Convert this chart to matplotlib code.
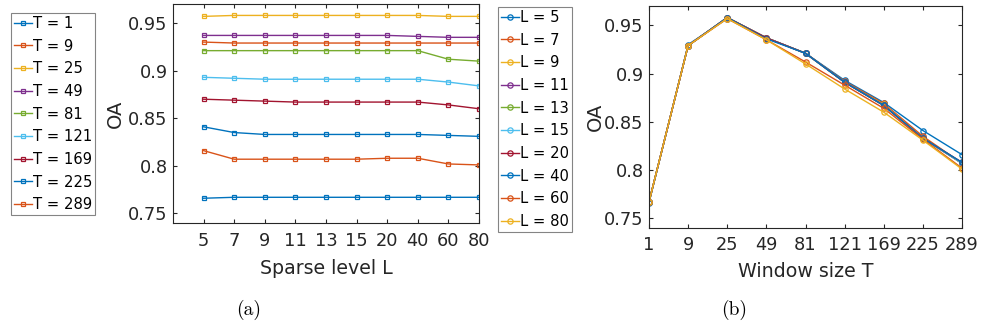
import matplotlib
matplotlib.use("Agg")
import matplotlib.pyplot as plt
import numpy as np

plt.rcParams['font.family'] = ['DejaVu Sans']

# window sizes T (rows) and sparse levels L (columns)
T_vals = [1, 9, 25, 49, 81, 121, 169, 225, 289]
L_vals = [5, 7, 9, 11, 13, 15, 20, 40, 60, 80]

# OA for each T (row) over L (column)
oa_T1   = [0.766, 0.767, 0.767, 0.767, 0.767, 0.767, 0.767, 0.767, 0.767, 0.767]
oa_T9   = [0.930, 0.929, 0.929, 0.929, 0.929, 0.929, 0.929, 0.929, 0.929, 0.929]
oa_T25  = [0.957, 0.958, 0.958, 0.958, 0.958, 0.958, 0.958, 0.958, 0.957, 0.957]
oa_T49  = [0.937, 0.937, 0.937, 0.937, 0.937, 0.937, 0.937, 0.936, 0.935, 0.935]
oa_T81  = [0.921, 0.921, 0.921, 0.921, 0.921, 0.921, 0.921, 0.921, 0.912, 0.910]
oa_T121 = [0.893, 0.892, 0.891, 0.891, 0.891, 0.891, 0.891, 0.891, 0.888, 0.884]
oa_T169 = [0.870, 0.869, 0.868, 0.867, 0.867, 0.867, 0.867, 0.867, 0.864, 0.860]
oa_T225 = [0.841, 0.835, 0.833, 0.833, 0.833, 0.833, 0.833, 0.833, 0.832, 0.831]
oa_T289 = [0.816, 0.807, 0.807, 0.807, 0.807, 0.807, 0.808, 0.808, 0.802, 0.801]

oa = np.array([oa_T1, oa_T9, oa_T25, oa_T49, oa_T81, oa_T121, oa_T169, oa_T225, oa_T289])

# MATLAB default colour order
colors = ['#0072BD', '#D95319', '#EDB120', '#7E2F8E', '#77AC30',
          '#4DBEEE', '#A2142F']

axis_col = '#262626'

fig = plt.figure(figsize=(9.81, 3.27), dpi=100)
ax1 = fig.add_axes([173 / 981, 1 - 223 / 327, 306 / 981, 219 / 327])
ax2 = fig.add_axes([649 / 981, 1 - 228 / 327, 313 / 981, 222 / 327])

def style(ax, xpad):
    for s in ax.spines.values():
        s.set_color(axis_col)
        s.set_linewidth(0.8)
    ax.tick_params(direction='in', length=3, width=0.8, colors=axis_col,
                   labelsize=12.8, top=True, right=True)
    ax.tick_params(axis='x', pad=xpad)
    ax.tick_params(axis='y', pad=3.8)
    ax.set_ylim(0.74, 0.97)
    ax.set_yticks([0.75, 0.8, 0.85, 0.9, 0.95])
    ax.set_yticklabels(['0.75', '0.8', '0.85', '0.9', '0.95'])
    ax.set_ylabel('OA', fontsize=14, color=axis_col)

# (a) OA vs sparse level, one line per T
xa = np.arange(1, len(L_vals) + 1)
h1 = []
for i, t in enumerate(T_vals):
    h, = ax1.plot(xa, oa[i], '-s', color=colors[i % 7], lw=1.0, ms=3.5,
                  mfc='none', mew=0.9, label='T = %d' % t)
    h1.append(h)
ax1.set_xlim(0, len(L_vals))
ax1.set_xticks(xa)
ax1.set_xticklabels([str(l) for l in L_vals])
ax1.set_xlabel('Sparse level L', fontsize=13.7, color=axis_col)
style(ax1, 6.8)
ax1.yaxis.set_label_coords(-0.158, 0.5)
ax1.xaxis.set_label_coords(0.5, -0.165)

# (b) OA vs window size, one line per L
xb = np.arange(1, len(T_vals) + 1)
h2 = []
for j, l in enumerate(L_vals):
    h, = ax2.plot(xb, oa[:, j], '-o', color=colors[j % 7], lw=1.0, ms=3.8,
                  mfc='none', mew=0.9, label='L = %d' % l)
    h2.append(h)
ax2.set_xlim(1, len(T_vals))
ax2.set_xticks(xb)
ax2.set_xticklabels([str(t) for t in T_vals])
ax2.set_xlabel('Window size T', fontsize=13.7, color=axis_col)
style(ax2, 5.4)
ax2.yaxis.set_label_coords(-0.142, 0.5)
ax2.xaxis.set_label_coords(0.5, -0.155)

leg_kw = dict(loc='upper left', fontsize=10.6, handlelength=1.2, handletextpad=0.1,
              labelspacing=0.52, borderpad=0.2, borderaxespad=0, fancybox=False,
              frameon=True, bbox_transform=fig.transFigure)
lg1 = fig.legend(handles=h1, bbox_to_anchor=(11 / 981, 1 - 13 / 327), **leg_kw)
lg2 = fig.legend(handles=h2, bbox_to_anchor=(498 / 981, 1 - 7 / 327), **leg_kw)
for lg in (lg1, lg2):
    lg.get_frame().set_edgecolor('#666666')
    lg.get_frame().set_linewidth(0.8)

fig.text(249 / 981, 1 - 310 / 327, '(a)', ha='center', va='center',
         fontsize=14, family='cmr10')
fig.text(734 / 981, 1 - 310 / 327, '(b)', ha='center', va='center',
         fontsize=14, family='cmr10')

fig.savefig('out.png', dpi=100)
